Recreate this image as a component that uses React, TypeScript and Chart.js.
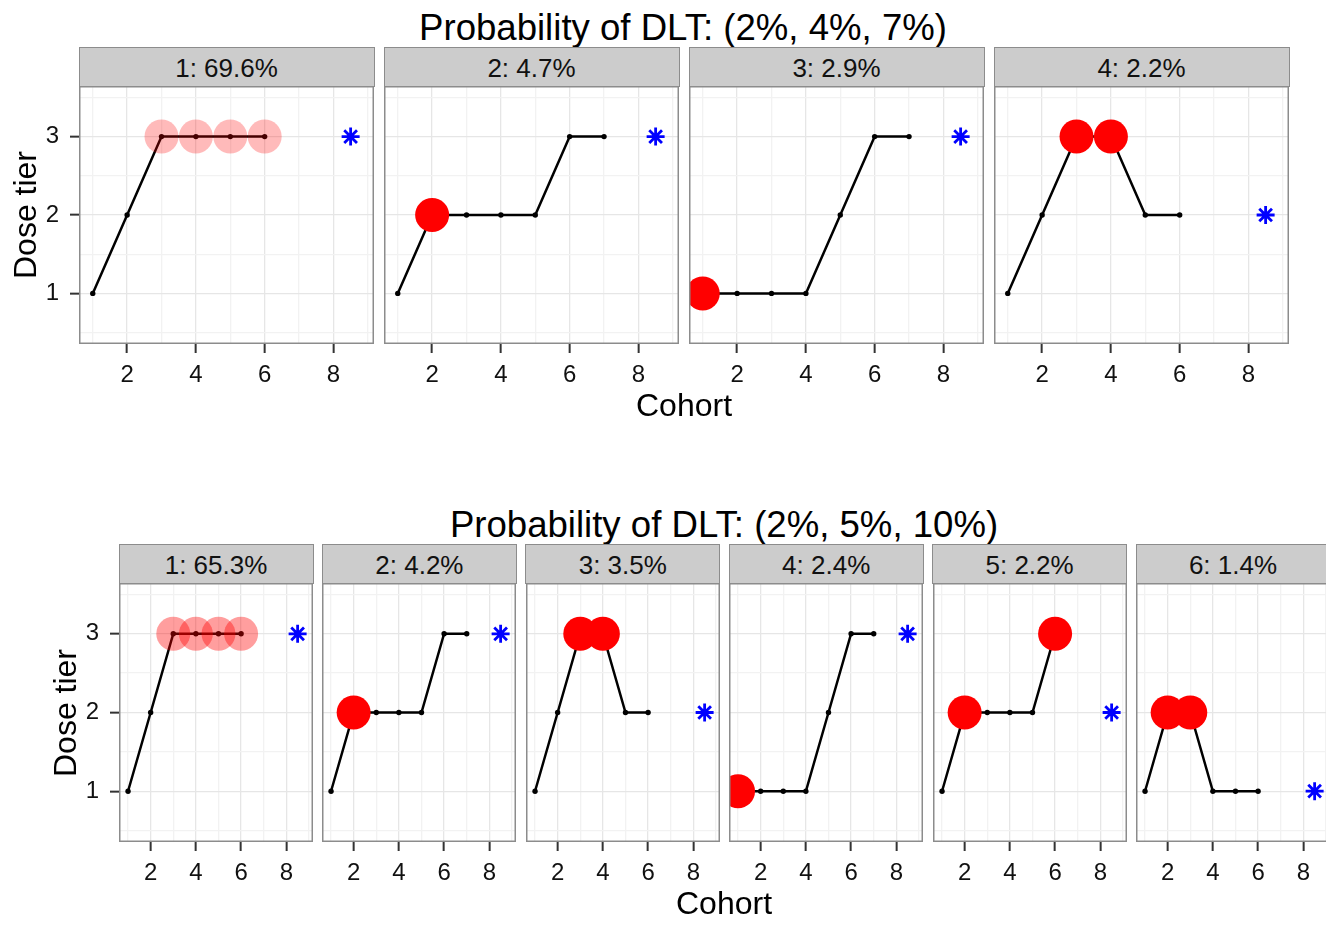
import React, { useEffect, useRef } from "react";
import { Chart, registerables } from "chart.js";

Chart.register(...registerables);

// ---------- data ----------
const topTitle = "Probability of DLT: (2%, 4%, 7%)";
const topStrips = ["1: 69.6%", "2: 4.7%", "3: 2.9%", "4: 2.2%"];
const topDoseByCohort = [
  [1, 2, 3, 3, 3, 3],
  [1, 2, 2, 2, 2, 3, 3],
  [1, 1, 1, 1, 2, 3, 3],
  [1, 2, 3, 3, 2, 2],
];
const topDltCohorts = [[3, 4, 5, 6], [2], [1], [3, 4]];
const topMtdDose = [3, 3, 3, 2];

const bottomTitle = "Probability of DLT: (2%, 5%, 10%)";
const bottomStrips = ["1: 65.3%", "2: 4.2%", "3: 3.5%", "4: 2.4%", "5: 2.2%", "6: 1.4%"];
const bottomDoseByCohort = [
  [1, 2, 3, 3, 3, 3],
  [1, 2, 2, 2, 2, 3, 3],
  [1, 2, 3, 3, 2, 2],
  [1, 1, 1, 1, 2, 3, 3],
  [1, 2, 2, 2, 2, 3],
  [1, 2, 2, 1, 1, 1],
];
const bottomDltCohorts = [[3, 4, 5, 6], [2], [3, 4], [1], [2, 6], [2, 3]];
const bottomMtdDose = [3, 3, 2, 3, 2, 1];

const mtdCohort = 8.5;
const xTickLabels = [2, 4, 6, 8];
const yTickLabels = [1, 2, 3];
const xGridValues = [1, 2, 3, 4, 5, 6, 7, 8, 9];
const yGridValues = [0.5, 1, 1.5, 2, 2.5, 3, 3.5];
const xAxisTitle = "Cohort";
const yAxisTitle = "Dose tier";

// ---------- style / layout ----------
const FONT = '"Liberation Sans", Arial, Helvetica, sans-serif';
const X_MIN = 0.6;
const X_MAX = 9.18;
const Y_MIN = 0.355;
const Y_MAX = 3.645;
const Y_AXIS_W = 79;
const X_AXIS_H = 48;
const STRIP_H = 39;
const MAJOR_GRID = "#e6e6e6";
const MINOR_GRID = "#f2f2f2";
const PANEL_BORDER = "#8c8c8c";

const topLayout = { lefts: [79, 384, 689, 994], width: 295, top: 86, height: 258, fade: 0.27 };
const bottomLayout = {
  lefts: [119, 322.4, 525.8, 729.2, 932.6, 1136],
  width: 194,
  top: 583,
  height: 259,
  fade: 0.38,
};

const panelBorderPlugin = {
  id: "panelBorder",
  afterDraw(chart: any) {
    const { ctx, chartArea: a } = chart;
    ctx.save();
    ctx.strokeStyle = PANEL_BORDER;
    ctx.lineWidth = 1.5;
    ctx.strokeRect(a.left + 0.75, a.top + 0.75, a.right - a.left - 1.5, a.bottom - a.top - 1.5);
    ctx.restore();
  },
};

type FacetProps = {
  left: number;
  top: number;
  width: number;
  height: number;
  showY: boolean;
  doses: number[];
  dlt: number[];
  mtd: number;
  dltAlpha: number;
};

function Facet({ left, top, width, height, showY, doses, dlt, mtd, dltAlpha }: FacetProps) {
  const ref = useRef<HTMLCanvasElement | null>(null);
  const yW = showY ? Y_AXIS_W : 0;
  const cw = Math.round(width + yW);
  const ch = Math.round(height + X_AXIS_H);

  useEffect(() => {
    if (!ref.current) return;
    const linePts = doses.map((d, i) => ({ x: i + 1, y: d }));
    const dltPts = dlt.map((c) => ({ x: c, y: doses[c - 1] }));
    const mtdPts = [{ x: mtdCohort, y: mtd }];

    const chart = new Chart(ref.current, {
      type: "scatter",
      data: {
        datasets: [
          {
            type: "scatter",
            data: dltPts,
            pointRadius: 17,
            pointHoverRadius: 17,
            pointBackgroundColor: `rgba(255,0,0,${dltAlpha})`,
            pointBorderWidth: 0,
            borderWidth: 0,
            order: 0,
            clip: 0,
          } as any,
          {
            type: "scatter",
            data: mtdPts,
            pointStyle: "star",
            pointRadius: 9,
            pointHoverRadius: 9,
            pointBorderColor: "#0000ff",
            pointBackgroundColor: "#0000ff",
            pointBorderWidth: 2.8,
            order: 1,
            clip: 0,
          } as any,
          {
            type: "line",
            data: linePts,
            borderColor: "#000000",
            borderWidth: 2.5,
            pointRadius: 2.7,
            pointHoverRadius: 2.7,
            pointBackgroundColor: "#000000",
            pointBorderWidth: 0,
            tension: 0,
            fill: false,
            order: 2,
            clip: 0,
          } as any,
        ],
      },
      options: {
        responsive: false,
        animation: false,
        devicePixelRatio: 1,
        events: [],
        layout: { padding: 0, autoPadding: false },
        plugins: { legend: { display: false }, tooltip: { enabled: false }, title: { display: false } },
        scales: {
          x: {
            type: "linear",
            min: X_MIN,
            max: X_MAX,
            afterBuildTicks: (s: any) => {
              s.ticks = xGridValues.map((v) => ({ value: v }));
            },
            afterFit: (s: any) => {
              s.height = X_AXIS_H;
              s.paddingLeft = 0;
              s.paddingRight = 0;
            },
            ticks: {
              autoSkip: false,
              maxRotation: 0,
              padding: 8,
              color: "#111111",
              font: { size: 24, family: FONT },
              callback: (v: any) => (xTickLabels.includes(v) ? String(v) : ""),
            },
            grid: {
              color: (c: any) => (c.tick && xTickLabels.includes(c.tick.value) ? MAJOR_GRID : MINOR_GRID),
              lineWidth: 1.3,
              tickLength: 9,
              tickWidth: 2,
              tickColor: (c: any) => (c.tick && xTickLabels.includes(c.tick.value) ? "#333333" : "rgba(0,0,0,0)"),
            },
            border: { display: false },
          },
          y: {
            type: "linear",
            min: Y_MIN,
            max: Y_MAX,
            afterBuildTicks: (s: any) => {
              s.ticks = yGridValues.map((v) => ({ value: v }));
            },
            afterFit: (s: any) => {
              s.width = yW;
              s.paddingTop = 0;
              s.paddingBottom = 0;
            },
            ticks: {
              display: showY,
              autoSkip: false,
              padding: 11,
              color: "#111111",
              font: { size: 24, family: FONT },
              callback: (v: any) => (yTickLabels.includes(v) ? String(v) : ""),
            },
            grid: {
              drawTicks: showY,
              color: (c: any) => (c.tick && yTickLabels.includes(c.tick.value) ? MAJOR_GRID : MINOR_GRID),
              lineWidth: 1.3,
              tickLength: 9,
              tickWidth: 2,
              tickColor: (c: any) => (c.tick && yTickLabels.includes(c.tick.value) ? "#333333" : "rgba(0,0,0,0)"),
            },
            border: { display: false },
          },
        },
      },
      plugins: [panelBorderPlugin],
    } as any);
    return () => chart.destroy();
  }, []);

  return (
    <canvas
      ref={ref}
      width={cw}
      height={ch}
      style={{ position: "absolute", left: left - yW, top, width: cw, height: ch }}
    />
  );
}

function Strip({ left, top, width, label }: { left: number; top: number; width: number; label: string }) {
  return (
    <div
      style={{
        position: "absolute",
        left: left - 0.5,
        top: top - STRIP_H,
        width: width + 1,
        height: STRIP_H + 1,
        boxSizing: "border-box",
        background: "#cccccc",
        border: `1.5px solid ${PANEL_BORDER}`,
        display: "flex",
        alignItems: "center",
        justifyContent: "center",
        fontSize: 26,
        lineHeight: "26px",
        color: "#111111",
        paddingTop: 2,
      }}
    >
      {label}
    </div>
  );
}

function Row({
  title,
  strips,
  doses,
  dlt,
  mtd,
  layout,
  titleCenter,
  titleTop,
  xTitleCenter,
  xTitleTop,
  yTitleCenterX,
}: any) {
  const midY = layout.top + layout.height / 2;
  return (
    <>
      <div
        style={{
          position: "absolute",
          left: titleCenter - 400,
          width: 800,
          top: titleTop,
          textAlign: "center",
          fontSize: 36.6,
          lineHeight: "37px",
          color: "#000",
          whiteSpace: "nowrap",
        }}
      >
        {title}
      </div>
      {strips.map((s: string, i: number) => (
        <React.Fragment key={i}>
          <Strip left={layout.lefts[i]} top={layout.top} width={layout.width} label={s} />
          <Facet
            left={layout.lefts[i]}
            top={layout.top}
            width={layout.width}
            height={layout.height}
            showY={i === 0}
            doses={doses[i]}
            dlt={dlt[i]}
            mtd={mtd[i]}
            dltAlpha={i === 0 ? layout.fade : 1}
          />
        </React.Fragment>
      ))}
      <div
        style={{
          position: "absolute",
          left: xTitleCenter - 200,
          width: 400,
          top: xTitleTop,
          textAlign: "center",
          fontSize: 32,
          lineHeight: "32px",
          color: "#000",
        }}
      >
        {xAxisTitle}
      </div>
      <div
        style={{
          position: "absolute",
          left: yTitleCenterX - 150,
          top: midY - 16,
          width: 300,
          height: 32,
          textAlign: "center",
          fontSize: 32,
          lineHeight: "32px",
          color: "#000",
          transform: "rotate(-90deg)",
          transformOrigin: "50% 50%",
          whiteSpace: "nowrap",
        }}
      >
        {yAxisTitle}
      </div>
    </>
  );
}

export default function App() {
  return (
    <div
      style={{
        position: "absolute",
        left: 0,
        top: 0,
        width: 1326,
        height: 926,
        overflow: "hidden",
        background: "#ffffff",
        fontFamily: FONT,
      }}
    >
      <Row
        title={topTitle}
        strips={topStrips}
        doses={topDoseByCohort}
        dlt={topDltCohorts}
        mtd={topMtdDose}
        layout={topLayout}
        titleCenter={683}
        titleTop={9}
        xTitleCenter={684}
        xTitleTop={389}
        yTitleCenterX={24.7}
      />
      <Row
        title={bottomTitle}
        strips={bottomStrips}
        doses={bottomDoseByCohort}
        dlt={bottomDltCohorts}
        mtd={bottomMtdDose}
        layout={bottomLayout}
        titleCenter={724}
        titleTop={506}
        xTitleCenter={724}
        xTitleTop={887}
        yTitleCenterX={64.7}
      />
    </div>
  );
}
